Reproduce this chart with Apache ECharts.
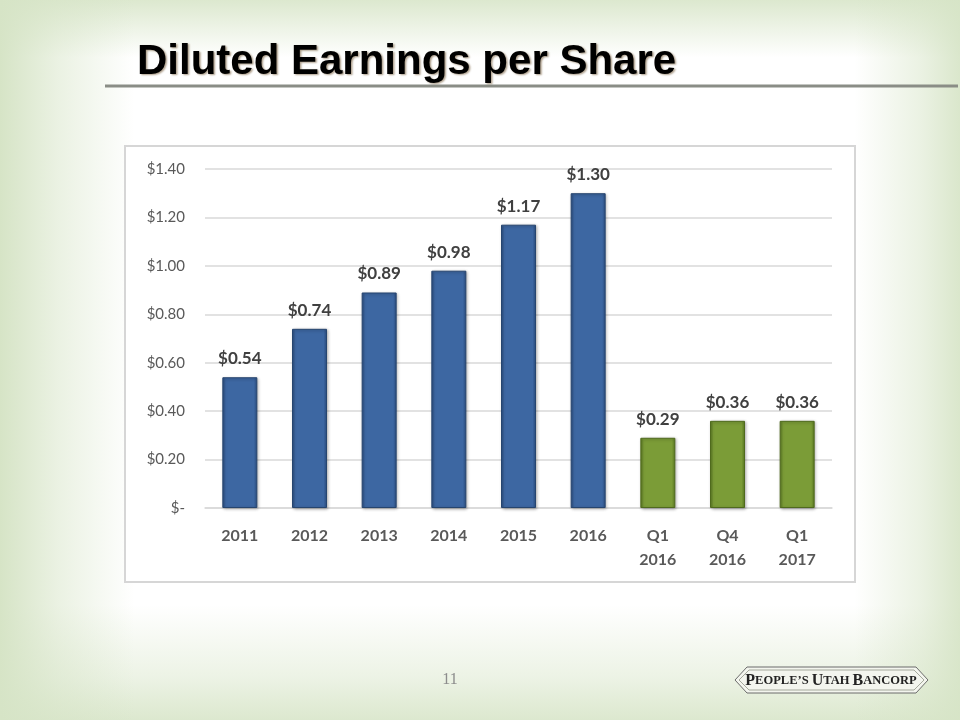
<!DOCTYPE html>
<html>
<head>
<meta charset="utf-8">
<script src="https://cdn.jsdelivr.net/npm/echarts@6/dist/echarts.min.js"></script>
<style>
html,body{margin:0;padding:0;width:960px;height:720px;overflow:hidden;}
body{background:
  linear-gradient(to right, rgba(214,228,198,1) 0%, rgba(214,228,198,0.5) 6%, rgba(214,228,198,0) 14%, rgba(214,228,198,0) 89%, rgba(214,228,198,0.5) 96%, rgba(214,228,198,0.9) 100%),
  linear-gradient(to bottom, rgba(214,228,198,0.85) 0%, rgba(214,228,198,0) 8%, rgba(214,228,198,0) 84%, rgba(214,228,198,0.45) 94%, rgba(214,228,198,0.85) 100%),
  #ffffff;}
#chart{width:960px;height:720px;}
</style>
</head>
<body>
<div id="chart"></div>
<script>
var categories = ['2011', '2012', '2013', '2014', '2015', '2016', 'Q1\n2016', 'Q4\n2016', 'Q1\n2017'];
var annualEps = [0.54, 0.74, 0.89, 0.98, 1.17, 1.30, null, null, null];
var quarterlyEps = [null, null, null, null, null, null, 0.29, 0.36, 0.36];
var yTicks = [0, 0.2, 0.4, 0.6, 0.8, 1.0, 1.2, 1.4];

function money(v) { return v === 0 ? '$-' : '$' + v.toFixed(2); }

var blueFill = new echarts.graphic.LinearGradient(0, 0, 1, 0, [
  {offset: 0, color: '#2b4d80'}, {offset: 0.1, color: '#3d67a2'},
  {offset: 0.9, color: '#3d67a2'}, {offset: 1, color: '#2b4d80'}
]);
var greenFill = new echarts.graphic.LinearGradient(0, 0, 1, 0, [
  {offset: 0, color: '#5b7a22'}, {offset: 0.1, color: '#7b9c37'},
  {offset: 0.9, color: '#7b9c37'}, {offset: 1, color: '#5b7a22'}
]);

var labelStyle = {
  show: true, position: 'top', distance: 10,
  fontFamily: 'Lato', fontWeight: 'bold', fontSize: 17, color: '#404040',
  formatter: function (p) { return money(p.value); }
};

var chart = echarts.init(document.getElementById('chart'), null, {renderer: 'canvas'});
chart.setOption({
  backgroundColor: 'transparent',
  animation: false,
  title: {
    text: 'Diluted Earnings per Share',
    left: 132, top: 36,
    textStyle: {
      fontFamily: 'Liberation Sans', fontWeight: 'bold', fontSize: 42, color: '#000000',
      textShadowColor: 'rgba(90,60,20,0.5)', textShadowOffsetX: 1.5, textShadowOffsetY: 1.5, textShadowBlur: 2
    }
  },
  graphic: [
    {type: 'line', shape: {x1: 105, y1: 86, x2: 958, y2: 86}, style: {stroke: '#8a8d86', lineWidth: 3}, z: -1},
    {type: 'rect', shape: {x: 125, y: 146, width: 730, height: 436}, style: {fill: '#ffffff', stroke: '#d6d6d6', lineWidth: 2}, z: -10},
    {type: 'text', x: 450, y: 680, style: {text: '11', fontFamily: 'Liberation Serif', fontSize: 16, fill: '#8c8c8c', align: 'center', verticalAlign: 'middle'}},
    {type: 'polygon', shape: {points: [[735, 680], [747, 667], [916, 667], [928, 680], [916, 693], [747, 693]]},
      style: {fill: '#f3f5ee', stroke: '#6b6b6b', lineWidth: 1}},
    {type: 'polygon', shape: {points: [[739, 680], [749, 670], [914, 670], [924, 680], [914, 690], [749, 690]]},
      style: {fill: 'none', stroke: '#a5a99c', lineWidth: 1}},
    {type: 'text', x: 831, y: 681, style: {
      text: '{b|P}{s|EOPLE\u2019S }{b|U}{s|TAH }{b|B}{s|ANCORP}',
      align: 'center', verticalAlign: 'middle',
      textShadowColor: 'rgba(0,0,0,0.3)', textShadowOffsetX: 1.5, textShadowOffsetY: 1.5,
      rich: {
        b: {fontFamily: 'Liberation Serif', fontWeight: 'bold', fontSize: 16, fill: '#222'},
        s: {fontFamily: 'Liberation Serif', fontWeight: 'bold', fontSize: 12.5, fill: '#222'}
      }
    }}
  ],
  grid: {left: 205, right: 128, top: 169, bottom: 212, containLabel: false},
  xAxis: {
    type: 'category', data: categories,
    axisLine: {show: true, lineStyle: {color: '#d9d9d9', width: 1.5}},
    axisTick: {show: false},
    axisLabel: {fontFamily: 'Lato', fontWeight: 'bold', fontSize: 16, color: '#595959', margin: 16, lineHeight: 24, interval: 0}
  },
  yAxis: {
    type: 'value', min: 0, max: 1.4, interval: 0.2,
    axisLine: {show: false}, axisTick: {show: false},
    splitLine: {lineStyle: {color: '#d9d9d9', width: 1.5}},
    axisLabel: {fontFamily: 'Lato', fontSize: 15, color: '#595959', margin: 20,
      formatter: function (v) { return money(v); }}
  },
  series: [
    {type: 'bar', data: annualEps, stack: 'eps', barWidth: 35,
      itemStyle: {color: blueFill, borderColor: '#26456f', borderWidth: 1,
        shadowColor: 'rgba(0,0,0,0.3)', shadowBlur: 3, shadowOffsetX: 1, shadowOffsetY: 1},
      label: labelStyle},
    {type: 'bar', data: quarterlyEps, stack: 'eps', barWidth: 35,
      itemStyle: {color: greenFill, borderColor: '#4f6a1d', borderWidth: 1,
        shadowColor: 'rgba(0,0,0,0.3)', shadowBlur: 3, shadowOffsetX: 1, shadowOffsetY: 1},
      label: labelStyle}
  ]
});
</script>
</body>
</html>
